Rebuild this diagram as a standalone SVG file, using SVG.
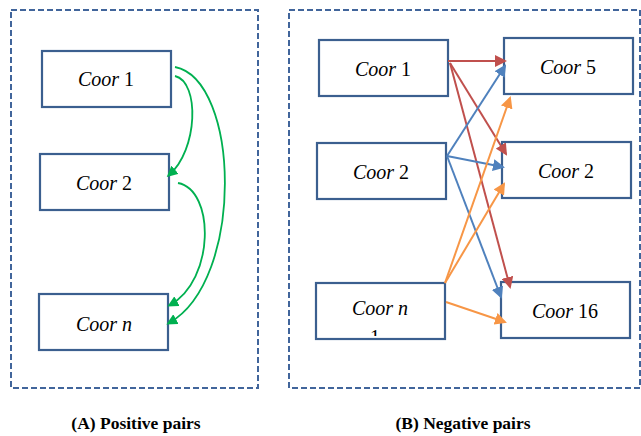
<svg xmlns="http://www.w3.org/2000/svg" width="641" height="436" viewBox="0 0 641 436">
<style>
.frame{fill:none;stroke:#41659b;stroke-width:2;stroke-dasharray:6,3}
.box{fill:#fff;stroke:#3b5f8f;stroke-width:2.2}
.lbl{font-family:"Liberation Serif",serif;font-size:20px;fill:#000;text-anchor:middle}
.it{font-style:italic}
.cap{font-family:"Liberation Serif",serif;font-size:17.5px;font-weight:bold;fill:#000;text-anchor:middle}
.g{fill:none;stroke:#00b050;stroke-width:1.8}
.r{stroke:#c0504d;stroke-width:2;fill:none}
.b{stroke:#4f81bd;stroke-width:2;fill:none}
.o{stroke:#f79646;stroke-width:2;fill:none}
</style>
<defs>
<marker id="ag" markerWidth="11" markerHeight="11" refX="8" refY="5.5" orient="auto" markerUnits="userSpaceOnUse" viewBox="0 0 11 11"><path d="M0,0 L11,5.5 L0,11 z" fill="#00b050"/></marker>
<marker id="ar" markerWidth="12" markerHeight="12" refX="10" refY="6" orient="auto" markerUnits="userSpaceOnUse" viewBox="0 0 12 12"><path d="M0,0 L12,6 L0,12 z" fill="#c0504d"/></marker>
<marker id="ab" markerWidth="12" markerHeight="12" refX="10" refY="6" orient="auto" markerUnits="userSpaceOnUse" viewBox="0 0 12 12"><path d="M0,0 L12,6 L0,12 z" fill="#4f81bd"/></marker>
<marker id="ao" markerWidth="12" markerHeight="12" refX="10" refY="6" orient="auto" markerUnits="userSpaceOnUse" viewBox="0 0 12 12"><path d="M0,0 L12,6 L0,12 z" fill="#f79646"/></marker>
<clipPath id="clipn"><rect x="316" y="283" width="129" height="53"/></clipPath>
</defs>
<rect class="frame" x="11" y="10" width="247" height="378"/>
<rect class="frame" x="289" y="10" width="351" height="378"/>

<g id="a-coor1"><rect class="box" x="42" y="51" width="129" height="56"/><text class="lbl" x="106" y="86"><tspan class="it">Coor</tspan> 1</text></g>
<g id="a-coor2"><rect class="box" x="40" y="154" width="129" height="56"/><text class="lbl" x="104" y="190"><tspan class="it">Coor</tspan> 2</text></g>
<g id="a-coorn"><rect class="box" x="39" y="294" width="129" height="56"/><text class="lbl" x="104" y="331" font-style="italic">Coor n</text></g>

<g id="b-coor1"><rect class="box" x="319" y="40" width="129" height="56"/><text class="lbl" x="383" y="76"><tspan class="it">Coor</tspan> 1</text></g>
<g id="b-coor2"><rect class="box" x="317" y="143" width="129" height="56"/><text class="lbl" x="381" y="179"><tspan class="it">Coor</tspan> 2</text></g>
<g id="b-coorn"><rect class="box" x="316" y="283" width="129" height="56"/><text class="lbl" x="380" y="315" font-style="italic">Coor n</text><text class="lbl" x="375" y="344" font-size="14" clip-path="url(#clipn)">1</text></g>
<g id="b-coor5"><rect class="box" x="504" y="38" width="129" height="56"/><text class="lbl" x="568" y="74"><tspan class="it">Coor</tspan> 5</text></g>
<g id="b-coor2r"><rect class="box" x="502" y="142" width="129" height="56"/><text class="lbl" x="566" y="178"><tspan class="it">Coor</tspan> 2</text></g>
<g id="b-coor16"><rect class="box" x="501" y="282" width="129" height="56"/><text class="lbl" x="565" y="318"><tspan class="it">Coor</tspan> 16</text></g>

<g id="connectors">
<path class="g" d="M175,76 C200,82 198,150 169,175" marker-end="url(#ag)"/>
<path class="g" d="M175,67 C240,80 245,280 169,323" marker-end="url(#ag)"/>
<path class="g" d="M178,183 C215,190 215,280 170,305" marker-end="url(#ag)"/>

<line class="r" x1="448" y1="61" x2="505" y2="61" marker-end="url(#ar)"/>
<line class="r" x1="450" y1="63" x2="506" y2="154" marker-end="url(#ar)"/>
<line class="r" x1="450" y1="63" x2="510" y2="287" marker-end="url(#ar)"/>

<line class="b" x1="447" y1="156" x2="505" y2="66" marker-end="url(#ab)"/>
<line class="b" x1="447" y1="156" x2="503" y2="167" marker-end="url(#ab)"/>
<line class="b" x1="447" y1="156" x2="501" y2="297" marker-end="url(#ab)"/>

<line class="o" x1="445" y1="283" x2="510" y2="98" marker-end="url(#ao)"/>
<line class="o" x1="445" y1="283" x2="504" y2="184" marker-end="url(#ao)"/>
<line class="o" x1="446" y1="302" x2="505" y2="322" marker-end="url(#ao)"/>
</g>

<text class="cap" x="136" y="429">(A) Positive pairs</text>
<text class="cap" x="463" y="429">(B) Negative pairs</text>
</svg>
